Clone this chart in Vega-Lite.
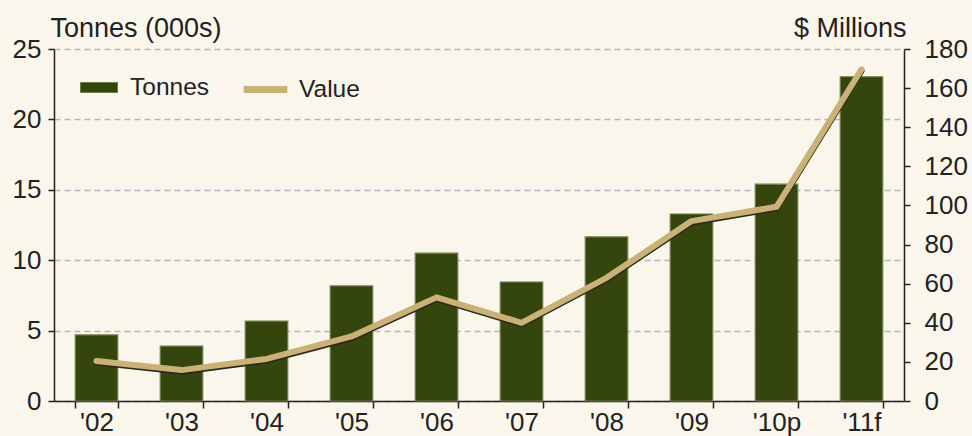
{
  "$schema": "https://vega.github.io/schema/vega-lite/v6.json",
  "width": 850,
  "height": 352,
  "autosize": "none",
  "padding": {"left": 54, "top": 49, "right": 68, "bottom": 35},
  "background": "#faf6eb",
  "config": {
    "view": {"stroke": null},
    "font": "Liberation Sans",
    "axis": {"domainColor": "#222222", "tickColor": "#222222", "labelColor": "#222222", "titleColor": "#222222", "labelFont": "Liberation Sans", "titleFont": "Liberation Sans", "labelFontSize": 26, "titleFontSize": 27, "titleFontWeight": "normal", "domainWidth": 1.5, "tickWidth": 1.5}
  },
  "data": {
    "values": [
      {"year": "'02", "tonnes": 4.69, "value": 20.5},
      {"year": "'03", "tonnes": 3.9, "value": 15.8},
      {"year": "'04", "tonnes": 5.68, "value": 21.5},
      {"year": "'05", "tonnes": 8.17, "value": 33},
      {"year": "'06", "tonnes": 10.5, "value": 53},
      {"year": "'07", "tonnes": 8.45, "value": 40},
      {"year": "'08", "tonnes": 11.65, "value": 63},
      {"year": "'09", "tonnes": 13.28, "value": 92},
      {"year": "'10p", "tonnes": 15.4, "value": 99.3},
      {"year": "'11f", "tonnes": 23.03, "value": 169.6}
    ]
  },
  "encoding": {
    "x": {
      "field": "year", "type": "nominal", "sort": null,
      "scale": {"paddingInner": 0.5, "paddingOuter": 0.25},
      "axis": {"title": null, "labelAngle": 0, "tickBand": "extent", "tickSize": 7, "labelPadding": 1, "labelFontSize": 26}
    }
  },
  "layer": [
    {
      "mark": {"type": "bar", "stroke": "#6e7e48", "strokeWidth": 1.2},
      "encoding": {
        "y": {
          "field": "tonnes", "type": "quantitative",
          "scale": {"domain": [0, 25]},
          "axis": {"title": "Tonnes (000s)", "values": [0, 5, 10, 15, 20, 25], "grid": true, "gridDash": [6, 4], "gridColor": "#b4b4c6", "gridWidth": 1.5, "tickSize": 6, "labelPadding": 7, "titleAngle": 0, "titleAlign": "left", "titleBaseline": "alphabetic", "titleX": -4, "titleY": -13}
        },
        "fill": {
          "datum": "Tonnes", "type": "nominal",
          "scale": {"domain": ["Tonnes"], "range": ["#34450e"]},
          "legend": {"title": null, "orient": "none", "legendX": 26, "legendY": 19.5, "symbolType": "M-1,-0.27H1V0.27H-1Z", "symbolSize": 1369, "symbolStrokeColor": "#6e7e48", "symbolStrokeWidth": 1, "labelFontSize": 24.5, "labelFont": "Liberation Sans", "labelColor": "#222222", "labelOffset": 12}
        }
      }
    },
    {
      "mark": {"type": "line", "color": "#2a2a1c", "strokeWidth": 6, "strokeCap": "round", "strokeJoin": "round", "yOffset": 1.6},
      "encoding": {
        "y": {"field": "value", "type": "quantitative", "scale": {"domain": [0, 180]}, "axis": null}
      }
    },
    {
      "mark": {"type": "line", "strokeWidth": 6, "strokeCap": "round", "strokeJoin": "round"},
      "encoding": {
        "y": {
          "field": "value", "type": "quantitative",
          "scale": {"domain": [0, 180]},
          "axis": {"title": "$ Millions", "orient": "right", "values": [0, 20, 40, 60, 80, 100, 120, 140, 160, 180], "grid": false, "tickSize": 6, "labelPadding": 14, "titleAngle": 0, "titleAlign": "right", "titleBaseline": "alphabetic", "titleX": 2, "titleY": -13}
        },
        "stroke": {
          "datum": "Value", "type": "nominal",
          "scale": {"domain": ["Value"], "range": ["#c9b178"]},
          "legend": {"title": null, "orient": "none", "legendX": 186, "legendY": 15, "symbolType": "stroke", "symbolSize": 1900, "symbolStrokeWidth": 7, "labelFontSize": 24.5, "labelFont": "Liberation Sans", "labelColor": "#222222", "labelOffset": 8}
        }
      }
    }
  ],
  "resolve": {"scale": {"y": "independent", "fill": "independent", "stroke": "independent"}}
}
